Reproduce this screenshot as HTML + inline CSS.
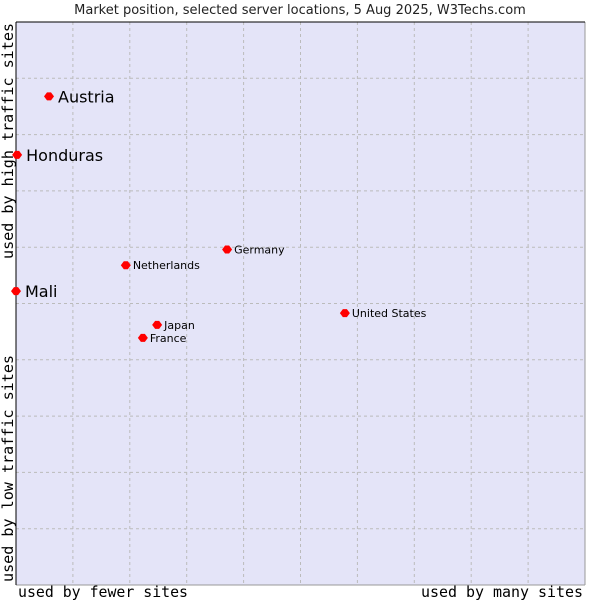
<!DOCTYPE html>
<html><head><meta charset="utf-8"><style>
body{margin:0;background:#fff;width:600px;height:600px;overflow:hidden}
svg{display:block}
</style></head><body>
<svg width="600" height="600">
<text x="300" y="14" text-anchor="middle" font-family="DejaVu Sans, sans-serif" font-size="13" fill="#222">Market position, selected server locations, 5 Aug 2025, W3Techs.com</text>
<rect x="16" y="22" width="569" height="563" fill="#e4e4f8"/>
<g id="grid"></g>
<line x1="585" y1="22" x2="585" y2="585" stroke="#999"/>
<line x1="16" y1="585" x2="585" y2="585" stroke="#999"/>
<line x1="16" y1="22" x2="585" y2="22" stroke="#000"/>
<line x1="16" y1="22" x2="16" y2="585" stroke="#000"/>
<g id="points"></g>
<text x="18" y="597" textLength="170" lengthAdjust="spacingAndGlyphs" font-family="DejaVu Sans Mono, monospace" font-size="15" fill="#000">used by fewer sites</text>
<text x="421" y="597" textLength="162" lengthAdjust="spacingAndGlyphs" font-family="DejaVu Sans Mono, monospace" font-size="15" fill="#000">used by many sites</text>
<text transform="translate(13,259) rotate(-90)" textLength="236" lengthAdjust="spacingAndGlyphs" font-family="DejaVu Sans Mono, monospace" font-size="15" fill="#000">used by high traffic sites</text>
<text transform="translate(13,582) rotate(-90)" textLength="227" lengthAdjust="spacingAndGlyphs" font-family="DejaVu Sans Mono, monospace" font-size="15" fill="#000">used by low traffic sites</text>
</svg>
<script>
const names=["Austria","Honduras","Mali","Netherlands","Germany","United States","Japan","France"];
const xVals=[5.8,0.2,0,19.3,37.1,57.8,24.8,22.3];
const yVals=[86.8,76.4,52.2,56.8,59.6,48.3,46.2,43.9];
const bigLabel=[true,true,true,false,false,false,false,false];
const NS="http://www.w3.org/2000/svg";
const L=16,T=22,W=569,H=563;
const sx=v=>L+v/100*W, sy=v=>T+H-v/100*H;
const grid=document.getElementById('grid');
for(let i=1;i<10;i++){
  const x=L+i*W/10,y=T+i*H/10;
  const a=document.createElementNS(NS,'line');
  a.setAttribute('x1',x);a.setAttribute('x2',x);a.setAttribute('y1',T);a.setAttribute('y2',T+H);
  a.setAttribute('stroke','#bbb');a.setAttribute('stroke-dasharray','3,3');
  
  
  grid.appendChild(a);
  const b=document.createElementNS(NS,'line');
  b.setAttribute('x1',L);b.setAttribute('x2',L+W);b.setAttribute('y1',y);b.setAttribute('y2',y);
  b.setAttribute('stroke','#bbb');b.setAttribute('stroke-dasharray','3,3');
  
  
  grid.appendChild(b);
}
const pts=document.getElementById('points');
names.forEach((n,i)=>{
  const x=sx(xVals[i]),y=sy(yVals[i]);
  const p=document.createElementNS(NS,'path');
  p.setAttribute('d',`M${x-5} ${y}L${x-2} ${y-4}L${x+2} ${y-4}L${x+5} ${y}L${x+2} ${y+4}L${x-2} ${y+4}Z`);
  p.setAttribute('fill','#f00');
  
  
  pts.appendChild(p);
  const t=document.createElementNS(NS,'text');
  const big=bigLabel[i];
  t.setAttribute('x',x+(big?9:7));t.setAttribute('y',y+(big?6:4));
  t.setAttribute('font-family','DejaVu Sans, sans-serif');
  t.setAttribute('font-size',big?16:11);
  t.setAttribute('fill','#000');
  t.textContent=n;
  
  
  pts.appendChild(t);
});
</script>
</body></html>
